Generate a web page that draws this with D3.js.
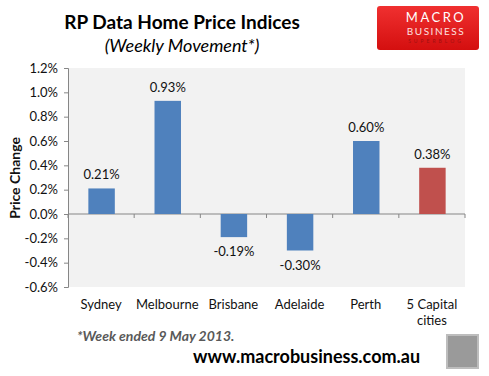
<!DOCTYPE html>
<html lang="en">
<head>
  <meta charset="UTF-8">
  <title>RP Data Home Price Indices</title>
  <script src="https://d3js.org/d3.v7.min.js"></script>
  <style>
    html, body { margin: 0; padding: 0; background: #fff; }
    text { font-family: Lato, "Open Sans", sans-serif; }
  </style>
</head>
<body>
  <div id="container"></div>
  <script>
    const width = 489;
    const height = 376;

    // chart values
    const cities = ['Sydney', 'Melbourne', 'Brisbane', 'Adelaide', 'Perth', '5 Capital cities'];
    const change = [0.21, 0.93, -0.19, -0.30, 0.60, 0.38];
    const yTicks = [-0.6, -0.4, -0.2, 0, 0.2, 0.4, 0.6, 0.8, 1.0, 1.2];

    const plot = {left: 68, right: 465, top: 68, bottom: 287};

    const svg = d3.select('#container').append('svg')
      .attr('width', width).attr('height', height);

    const x = d3.scaleBand().domain(cities).range([plot.left, plot.right]).paddingInner(0.6).paddingOuter(0.3);
    const y = d3.scaleLinear().domain([-0.6, 1.2]).range([plot.bottom, plot.top]);

    // plot background
    svg.append('rect')
      .attr('x', plot.left).attr('y', plot.top)
      .attr('width', plot.right - plot.left).attr('height', plot.bottom - plot.top)
      .attr('fill', '#f2f2f2');

    // y axis
    const yAxis = d3.axisLeft(y).tickValues(yTicks).tickSize(4).tickPadding(6)
      .tickFormat(d => d.toFixed(1) + '%');
    const gy = svg.append('g').attr('transform', `translate(${plot.left},0)`).call(yAxis);
    gy.select('.domain').attr('stroke', '#868686');
    gy.selectAll('.tick line').attr('stroke', '#868686');
    gy.selectAll('.tick text').attr('font-size', 13).attr('fill', '#111');

    // zero line with category boundary ticks
    svg.append('line')
      .attr('x1', plot.left).attr('x2', plot.right)
      .attr('y1', y(0)).attr('y2', y(0))
      .attr('stroke', '#868686');
    const step = x.step();
    const bounds = d3.range(cities.length + 1).map(i => plot.left + i * (plot.right - plot.left) / cities.length);
    svg.selectAll('.xtick').data(bounds).enter().append('line')
      .attr('class', 'xtick')
      .attr('x1', d => d).attr('x2', d => d)
      .attr('y1', y(0)).attr('y2', y(0) + 4)
      .attr('stroke', '#868686');

    // bars
    svg.selectAll('.bar').data(cities).enter().append('rect')
      .attr('class', 'bar')
      .attr('x', d => x(d) + 0.5)
      .attr('width', x.bandwidth())
      .attr('y', (d, i) => y(Math.max(0, change[i])))
      .attr('height', (d, i) => Math.abs(y(change[i]) - y(0)))
      .attr('fill', (d, i) => i === cities.length - 1 ? '#c0504d' : '#4f81bd');

    // data labels
    svg.selectAll('.lbl').data(cities).enter().append('text')
      .attr('class', 'lbl')
      .attr('x', d => x(d) + x.bandwidth() / 2 + 0.5)
      .attr('y', (d, i) => change[i] >= 0 ? y(change[i]) - 9 : y(change[i]) + 19)
      .attr('text-anchor', 'middle')
      .attr('font-size', 13).attr('fill', '#111')
      .text((d, i) => change[i].toFixed(2) + '%');

    // category labels
    const cat = svg.selectAll('.cat').data(cities).enter().append('text')
      .attr('class', 'cat')
      .attr('y', 309)
      .attr('text-anchor', 'middle')
      .attr('font-size', 13).attr('fill', '#111');
    cat.each(function(d) {
      const parts = d === '5 Capital cities' ? ['5 Capital', 'cities'] : [d];
      const t = d3.select(this);
      parts.forEach((p, i) => {
        t.append('tspan').attr('x', x(d) + x.bandwidth() / 2).attr('dy', i ? 16 : 0).text(p);
      });
    });

    // axis title
    svg.append('text')
      .attr('transform', `translate(20,178) rotate(-90)`)
      .attr('text-anchor', 'middle')
      .attr('font-size', 14).attr('font-weight', 'bold').attr('fill', '#111')
      .text('Price Change');

    // titles
    svg.append('text').attr('x', 182).attr('y', 29).attr('text-anchor', 'middle')
      .attr('font-size', 19).attr('font-weight', 'bold').attr('fill', '#000')
      .text('RP Data Home Price Indices');
    svg.append('text').attr('x', 182).attr('y', 52).attr('text-anchor', 'middle')
      .attr('font-size', 18).attr('font-style', 'italic').attr('fill', '#000')
      .text('(Weekly Movement*)');

    // logo
    const grad = svg.append('defs').append('linearGradient').attr('id', 'red')
      .attr('x1', 0).attr('y1', 0).attr('x2', 0).attr('y2', 1);
    grad.append('stop').attr('offset', 0).attr('stop-color', '#f03030');
    grad.append('stop').attr('offset', 1).attr('stop-color', '#d40f0f');
    svg.append('rect').attr('x', 377).attr('y', 6).attr('width', 102).attr('height', 44)
      .attr('rx', 3).attr('fill', 'url(#red)');
    svg.append('text').attr('x', 436).attr('y', 22).attr('text-anchor', 'middle')
      .attr('font-size', 13).attr('fill', '#fff').attr('letter-spacing', 2.5).text('MACRO');
    svg.append('text').attr('x', 436).attr('y', 35).attr('text-anchor', 'middle')
      .attr('font-size', 10).attr('fill', '#fde0e0').attr('letter-spacing', 1.5).text('BUSINESS');
    svg.append('text').attr('x', 436).attr('y', 43).attr('text-anchor', 'middle')
      .attr('font-size', 5).attr('fill', '#a01010').attr('letter-spacing', 3).text('SUPERBLOG');

    // footer
    svg.append('text').attr('x', 77).attr('y', 341)
      .attr('font-size', 14).attr('font-style', 'italic').attr('font-weight', 'bold').attr('fill', '#595959')
      .text('*Week ended 9 May 2013.');
    svg.append('text').attr('x', 193).attr('y', 363)
      .attr('font-size', 18).attr('font-weight', 'bold').attr('fill', '#000')
      .text('www.macrobusiness.com.au');
    svg.append('rect').attr('x', 447).attr('y', 335).attr('width', 31).attr('height', 33)
      .attr('fill', '#9a9a9a').attr('stroke', '#bdbdbd').attr('stroke-width', 2);
  </script>
</body>
</html>
